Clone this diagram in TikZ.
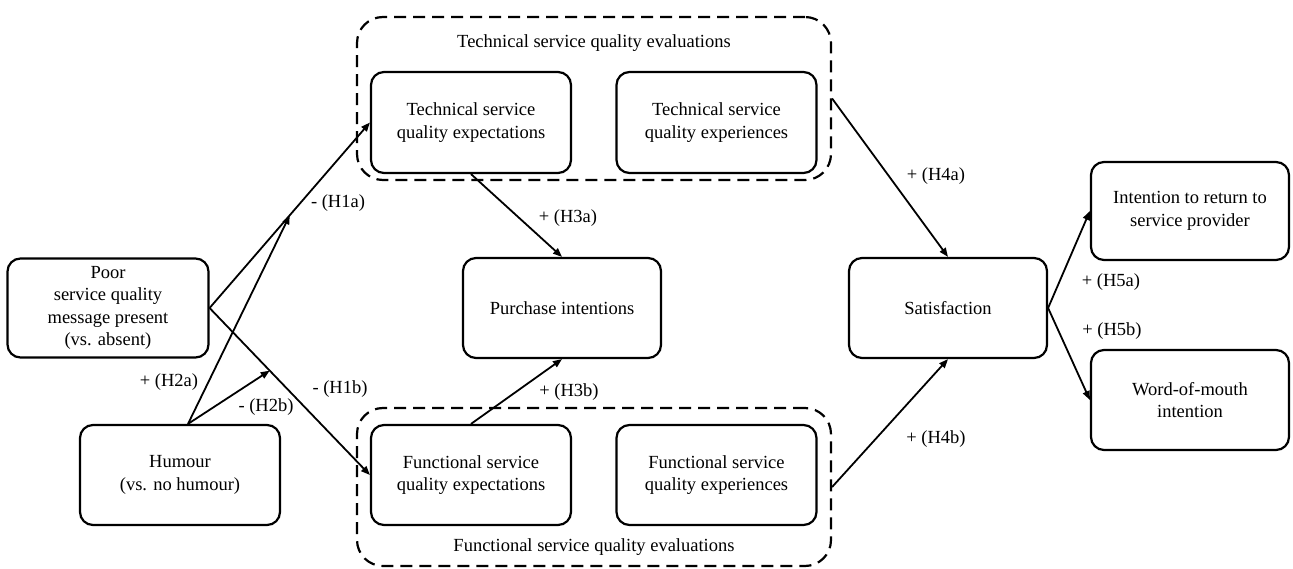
\documentclass[tikz,border=0pt]{standalone}
\usepackage{fontspec}
\setmainfont{Liberation Serif}
\usetikzlibrary{arrows.meta,calc}
\begin{document}
\begin{tikzpicture}[x=1pt,y=-1pt,
  box/.style={draw, line width=2.2pt, rounded corners=13pt, minimum width=200pt,
    minimum height=100pt, align=center, inner sep=0pt,
    font=\fontsize{18.5}{22.5}\selectfont},
  grp/.style={draw, line width=2.2pt, dash pattern=on 12pt off 7pt,
    rounded corners=26pt, inner sep=0pt},
  conn/.style={line width=1.8pt, -{Triangle[length=9pt,width=7pt]}},
  lab/.style={font=\fontsize{18.5}{22.5}\selectfont, inner sep=0pt}]
\fill[white] (0,0) rectangle (1293,569);
\useasboundingbox (0,0) rectangle (1293,569);

% dashed groups
\node[grp, minimum width=474pt, minimum height=163pt] (tgroup) at (594,98.5) {};
\node[grp, minimum width=474pt, minimum height=158pt] (fgroup) at (594,487) {};
\node[lab] (tgl) at (594,43) {Technical service quality evaluations};
\node[lab] (fgl) at (594,547) {Functional service quality evaluations};

% boxes
\node[box, minimum width=201pt, minimum height=99pt] (poor) at (108,308)
  {Poor\\service quality\\message present\\(vs. absent)};
\node[box] (humour) at (180,475) {Humour\\(vs. no humour)};
\node[box, minimum height=101pt] (texp) at (471,122.5) {Technical service\\quality expectations};
\node[box, minimum height=101pt] (texper) at (716.5,122.5) {Technical service\\quality experiences};
\node[box] (fexp) at (471,475) {Functional service\\quality expectations};
\node[box] (fexper) at (716.5,475) {Functional service\\quality experiences};
\node[box, minimum width=198pt] (purch) at (562,308) {Purchase intentions};
\node[box, minimum width=198pt] (sat) at (948,308) {Satisfaction};
\node[box, minimum width=198pt, minimum height=98pt] (intent) at (1190,211)
  {Intention to return to\\service provider};
\node[box, minimum width=198pt] (wom) at (1190,400) {Word-of-mouth\\intention};

% connectors
\coordinate (m1a) at ($(poor.east)!0.5!(texp.west)$);
\coordinate (m1b) at ($(poor.east)!0.375!(fexp.west)$);
\draw[conn] (poor.east) -- (texp.west);
\draw[conn] (poor.east) -- (fexp.west);
\draw[conn] ([xshift=8pt]humour.north) -- (m1a);
\draw[conn] ([xshift=8pt]humour.north) -- (m1b);
\draw[conn] (texp.south) -- (purch.north);
\draw[conn] (fexp.north) -- (purch.south);
\draw[conn] (tgroup.east) -- (sat.north);
\draw[conn] (fgroup.east) -- (sat.south);
\draw[conn] (sat.east) -- (intent.west);
\draw[conn] (sat.east) -- (wom.west);

% labels
\node[lab] (lh1a) at (338,203) {- (H1a)};
\node[lab] (lh1b) at (340,389) {- (H1b)};
\node[lab] (lh2a) at (169,382) {+ (H2a)};
\node[lab] (lh2b) at (266,407) {- (H2b)};
\node[lab] (lh3a) at (568,218) {+ (H3a)};
\node[lab] (lh3b) at (569,392) {+ (H3b)};
\node[lab] (lh4a) at (936,176) {+ (H4a)};
\node[lab] (lh4b) at (936,439) {+ (H4b)};
\node[lab] (lh5a) at (1111,282) {+ (H5a)};
\node[lab] (lh5b) at (1112,331) {+ (H5b)};
\end{tikzpicture}
\end{document}
